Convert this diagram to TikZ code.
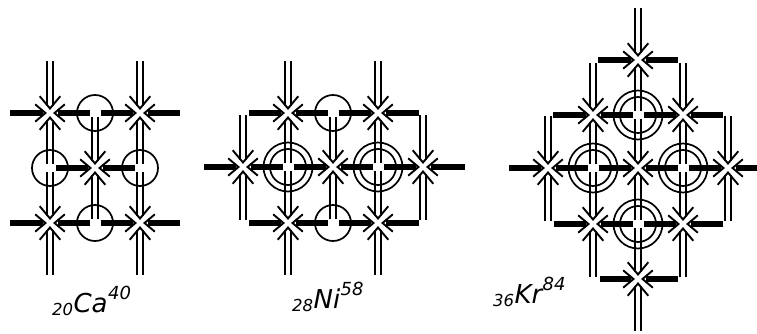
\documentclass[tikz,border=0pt]{standalone}
\usepackage{fontspec}
\setmainfont{DejaVu Sans}
\usetikzlibrary{calc}
\tikzset{
  site/.style={circle,draw=black,line width=1.7pt,minimum size=36pt,inner sep=0pt},
  outersite/.style={circle,draw=black,line width=1.7pt,minimum size=49pt,inner sep=0pt},
  heavy/.style={line width=6.2pt,draw=black},
  thin rail/.style={line width=2pt,draw=black},
  barb/.style={line width=1.9pt,draw=black},
  lab/.style={anchor=base west,inner sep=0pt,font=\itshape}
}
\newcommand{\barbs}[3]{%
  \coordinate (tip) at ($(#2)!4.5pt!(#1)$);
  \draw[barb] ($(tip)!#3pt!40:(#1)$) -- (tip) -- ($(tip)!#3pt!-40:(#1)$);}
\newcommand{\hbond}[3][0]{%
  \draw[heavy] ($(#2)!#1pt!(#3)$) -- ($(#3)!7.5pt!(#2)$);
  \barbs{#2}{#3}{13.5}}
\newcommand{\vbond}[3][0]{%
  \coordinate (st) at ($(#2)!#1pt!(#3)$);
  \coordinate (en) at ($(#3)!7pt!(#2)$);
  \draw[thin rail] ($(st)+(-2.7,0)$) -- ($(en)+(-2.7,0)$);
  \draw[thin rail] ($(st)+(2.7,0)$) -- ($(en)+(2.7,0)$);
  \barbs{#2}{#3}{16}}
\newcommand{\isotope}[6]{% x, main baseline, sub, main, sup, name
  \node[lab] (#6a) at (#1,#2+3) {\fontsize{16.5}{16.5}\selectfont #3};
  \node[lab] (#6c) at ($(#6a.base east)+(0,-3)$) {\fontsize{26}{26}\selectfont #4};
  \node[lab] (#6d) at ($(#6c.base east)+(0,-13)$) {\fontsize{18}{18}\selectfont #5};}
\begin{document}
\begin{tikzpicture}[x=1pt,y=-1pt]
\useasboundingbox (0,0) rectangle (757,334);
% ---------- Ca ----------
\foreach \n/\x/\y in {a11/50/113,a31/140/113,a22/95/168,a13/50/223,a33/140/223,
  fa/50/61,fb/140/61,fc/50/275,fd/140/275,fe/10/113,ff/180/113,fg/10/223,fh/180/223}
  {\coordinate (\n) at (\x,\y);}
\foreach \n/\x/\y in {a21/95/113,a12/50/168,a32/140/168,a23/95/223}
  {\node[site] (\n) at (\x,\y) {};}
\foreach \a/\b in {fe/a11,ff/a31,fg/a13,fh/a33}{\hbond{\a}{\b}}
\foreach \a/\b in {a21/a11,a21/a31,a12/a22,a32/a22,a23/a13,a23/a33}{\hbond[5.5]{\a.center}{\b}}
\foreach \a/\b in {fa/a11,fb/a31,fc/a13,fd/a33}{\vbond{\a}{\b}}
\foreach \a/\b in {a12/a11,a12/a13,a32/a31,a32/a33,a21/a22,a23/a22}{\vbond[4]{\a.center}{\b}}
% ---------- Ni ----------
\foreach \n/\x/\y in {n21/288/113,n41/378/113,n12/243/167,n32/333/167,n52/423/167,n23/288/223,n43/378/223,
  ga/288/61,gb/378/61,gc/288/275,gd/378/275,ge/249/113,gf/419/113,gg/249/223,gh/419/223,
  gi/204/167,gj/465/167,gk/243/115,gl/423/115,gm/243/220,gn/423/220}
  {\coordinate (\n) at (\x,\y);}
\foreach \n/\x/\y in {n31/333/113,n33/333/223}{\node[site] (\n) at (\x,\y) {};}
\foreach \n/\x/\y in {n22/288/167,n42/378/167}
  {\node[site] (\n) at (\x,\y) {}; \node[outersite] (\n o) at (\x,\y) {};}
\foreach \a/\b in {ge/n21,gf/n41,gg/n23,gh/n43,gi/n12,gj/n52}{\hbond{\a}{\b}}
\foreach \a/\b in {n31/n21,n31/n41,n33/n23,n33/n43,n22/n12,n22/n32,n42/n32,n42/n52}{\hbond[5.5]{\a.center}{\b}}
\foreach \a/\b in {ga/n21,gb/n41,gc/n23,gd/n43,gk/n12,gl/n52,gm/n12,gn/n52}{\vbond{\a}{\b}}
\foreach \a/\b in {n22/n21,n22/n23,n42/n41,n42/n43,n31/n32,n33/n32}{\vbond[4]{\a.center}{\b}}
% ---------- Kr ----------
\foreach \n/\x/\y in {k31/638/60,k22/593/115,k42/683/115,k13/548/168,k33/638/168,k53/728/168,
  k24/593/224,k44/683/224,k35/638/279,
  ha/638/8,hb/638/331,hc/598/60,hd/678/60,he/600/279,hf/678/279,hg/553/115,hh/723/115,
  hi/554/224,hj/723/224,hk/509/168,hl/757/168,hm/593/63,hn/683/63,ho/548/116,hp/728/116,
  hq/548/221,hr/728/221,hs/593/277,ht/683/277}
  {\coordinate (\n) at (\x,\y);}
\foreach \n/\x/\y in {k32/638/115,k23/593/168,k43/683/168,k34/638/224}
  {\node[site] (\n) at (\x,\y) {}; \node[outersite] (\n o) at (\x,\y) {};}
\foreach \a/\b in {hc/k31,hd/k31,he/k35,hf/k35,hg/k22,hh/k42,hi/k24,hj/k44,hk/k13,hl/k53}{\hbond{\a}{\b}}
\foreach \a/\b in {k32/k22,k32/k42,k34/k24,k34/k44,k23/k13,k23/k33,k43/k33,k43/k53}{\hbond[5.5]{\a.center}{\b}}
\foreach \a/\b in {ha/k31,hb/k35,hm/k22,hn/k42,ho/k13,hp/k53,hq/k13,hr/k53,hs/k24,ht/k44}{\vbond{\a}{\b}}
\foreach \a/\b in {k32/k31,k32/k33,k23/k22,k23/k24,k43/k42,k43/k44,k34/k33,k34/k35}{\vbond[4]{\a.center}{\b}}
% ---------- labels ----------
\isotope{52}{312}{20}{Ca}{40}{ca}
\isotope{292}{308}{28}{Ni}{58}{ni}
\isotope{493}{303}{36}{Kr}{84}{kr}
\end{tikzpicture}
\end{document}
